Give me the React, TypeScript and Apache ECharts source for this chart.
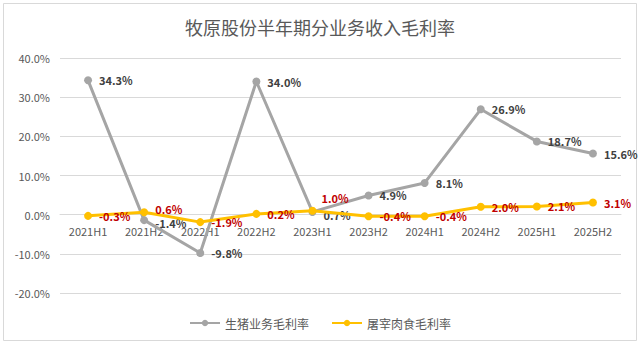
import React, { useEffect, useRef } from "react";
import * as echarts from "echarts";

const categories = ["2021H1", "2021H2", "2022H1", "2022H2", "2023H1", "2023H2", "2024H1", "2024H2", "2025H1", "2025H2"];
const hogMargin = [34.3, -1.4, -9.8, 34.0, 0.7, 4.9, 8.1, 26.9, 18.7, 15.6];
const meatMargin = [-0.3, 0.6, -1.9, 0.2, 1.0, -0.4, -0.4, 2.0, 2.1, 3.1];
const seriesNames = ["生猪业务毛利率", "屠宰肉食毛利率"];
const titleText = "牧原股份半年期分业务收入毛利率";

const FONT = "'Noto Sans CJK SC', 'Noto Sans', sans-serif";

export default function App() {
  const ref = useRef<HTMLDivElement>(null);
  useEffect(() => {
    if (!ref.current) return;
    const chart = echarts.init(ref.current, undefined, { renderer: "svg" });
    const fmt = (p: any) => Number(p.value).toFixed(1) + "%";
    const hogOffsets: Record<number, number[]> = { 1: [0, 3], 4: [0, 3] };
    const meatOffsets: Record<number, number[]> = { 1: [0, -3], 4: [-2, -13] };
    const hogData = hogMargin.map((v, i) =>
      hogOffsets[i] ? { value: v, label: { offset: hogOffsets[i] } } : v
    );
    const meatData = meatMargin.map((v, i) =>
      meatOffsets[i] ? { value: v, label: { offset: meatOffsets[i] } } : v
    );
    chart.setOption({
      animation: false,
      backgroundColor: "#ffffff",
      textStyle: { fontFamily: FONT },
      title: {
        text: titleText,
        left: "center",
        top: 13,
        textStyle: { fontSize: 18, fontWeight: "normal", color: "#595959", fontFamily: FONT },
      },
      graphic: [
        {
          type: "rect",
          shape: { x: 3.5, y: 3.5, width: 633, height: 337 },
          style: { fill: "none", stroke: "#d9d9d9", lineWidth: 1 },
          silent: true,
        },
      ],
      legend: {
        bottom: 12,
        left: "center",
        itemWidth: 30,
        itemHeight: 8,
        itemGap: 22,
        textStyle: { fontSize: 12, color: "#595959", fontFamily: FONT },
        data: seriesNames,
      },
      grid: { left: 60, right: 19, top: 58, bottom: 53 },
      xAxis: {
        type: "category",
        data: categories,
        boundaryGap: true,
        axisLine: { show: true, onZero: true, lineStyle: { color: "#d9d9d9", width: 1 } },
        axisTick: { show: false },
        axisLabel: { color: "#595959", fontSize: 11, margin: -68, fontFamily: FONT },
      },
      yAxis: {
        type: "value",
        min: -20,
        max: 40,
        interval: 10,
        axisLine: { show: false },
        axisTick: { show: false },
        splitLine: { lineStyle: { color: "#d9d9d9", width: 1 } },
        axisLabel: {
          color: "#595959",
          fontSize: 11,
          margin: 10,
          fontFamily: FONT,
          formatter: (v: number) => v.toFixed(1) + "%",
        },
      },
      series: [
        {
          name: seriesNames[0],
          type: "line",
          data: hogData,
          color: "#a5a5a5",
          lineStyle: { width: 3, color: "#a5a5a5" },
          symbol: "circle",
          symbolSize: 8,
          itemStyle: { color: "#a5a5a5" },
          label: {
            show: true,
            position: "right",
            distance: 7,
            fontSize: 11,
            fontWeight: "bold",
            color: "#404040",
            fontFamily: FONT,
            formatter: fmt,
          },
          z: 2,
        },
        {
          name: seriesNames[1],
          type: "line",
          data: meatData,
          color: "#ffc000",
          lineStyle: { width: 3, color: "#ffc000" },
          symbol: "circle",
          symbolSize: 8,
          itemStyle: { color: "#ffc000" },
          label: {
            show: true,
            position: "right",
            distance: 7,
            fontSize: 11,
            fontWeight: "bold",
            color: "#c00000",
            fontFamily: FONT,
            formatter: fmt,
          },
          z: 3,
        },
      ],
    });
    return () => chart.dispose();
  }, []);
  return (
    <div
      ref={ref}
      style={{ position: "absolute", left: 0, top: 0, width: 640, height: 346 }}
    />
  );
}
